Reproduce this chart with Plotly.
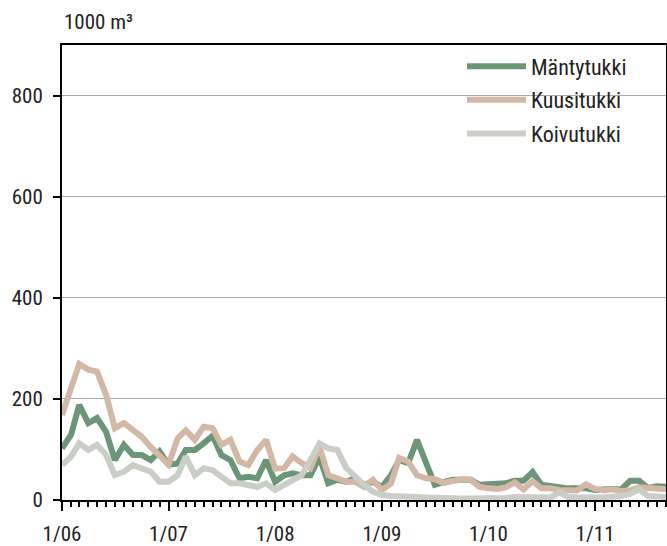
import pandas as pd
import plotly.graph_objects as go

months = pd.date_range("2006-01-01", periods=69, freq="MS")

mantytukki = [102, 129, 188, 152, 162, 135, 79, 109, 89, 89, 79, 96, 70,
              72, 99, 99, 112, 127, 89, 79, 43, 46, 43, 79, 36, 49,
              53, 49, 49, 85, 33, 40, 36, 43, 30, 36, 26, 49, 79, 73, 119, 73,
              30, 36, 40, 40, 40, 30, 30, 32, 33, 38, 38, 55, 30, 27, 26, 23,
              23, 23, 20, 22, 22, 21, 38, 38, 24, 27, 26]
kuusitukki = [168, 224, 269, 258, 254, 208, 142, 152, 138, 125, 105, 89, 70,
              122, 138, 119, 145, 142, 109, 119, 76, 69, 99, 119, 62, 63,
              86, 73, 63, 105, 49, 43, 36, 36, 26, 40, 20, 33, 83, 76, 49, 43,
              41, 34, 38, 41, 40, 26, 23, 22, 25, 35, 21, 37, 23, 23, 20, 20,
              19, 31, 22, 19, 21, 18, 19, 25, 24, 23, 21]
koivutukki = [69, 86, 112, 99, 109, 89, 49, 56, 69, 63, 56, 36, 36,
              49, 86, 49, 63, 59, 46, 33, 33, 30, 26, 33, 20, 30,
              40, 49, 79, 112, 102, 99, 63, 46, 30, 16, 10, 8, 8, 6, 6, 5,
              4, 3, 3, 3, 3, 3, 3, 3, 4, 6, 6, 6, 5, 5, 15, 6,
              5, 4, 5, 5, 6, 8, 12, 21, 8, 8, 6]

series_names = ["Mäntytukki", "Kuusitukki", "Koivutukki"]
series_colors = ["#6b9677", "#d4b8a6", "#c9cec6"]

year_ticks = ["2006-01-01", "2007-01-01", "2008-01-01", "2009-01-01", "2010-01-01", "2011-01-01"]
year_labels = ["1/06", "1/07", "1/08", "1/09", "1/10", "1/11"]
y_ticks = [0, 200, 400, 600, 800]

FONT = ("Roboto Condensed, Noto Sans Condensed, Liberation Sans Narrow, "
        "Arial Narrow, DejaVu Sans Condensed, sans-serif")
TEXT_COLOR = "#222222"

fig = go.Figure()
for name, vals, col in zip(series_names, [mantytukki, kuusitukki, koivutukki], series_colors):
    fig.add_trace(go.Scatter(x=months, y=vals, mode="lines", name=name, legendgroup=name,
                             line=dict(color=col, width=6)))

# white patch behind the legend that interrupts the 800 grid line
fig.add_shape(type="rect", xref="paper", yref="y", x0=0.606, x1=0.9487, y0=770, y1=830,
              fillcolor="white", line=dict(width=0), layer="between")

fig.update_layout(
    width=667, height=546,
    margin=dict(l=62, r=1, t=45, b=46),
    paper_bgcolor="white", plot_bgcolor="white",
    font=dict(family=FONT, size=21, color=TEXT_COLOR),
    showlegend=True,
    legend=dict(x=0.9437, xanchor="right", y=0.999, yanchor="top",
                bgcolor="rgba(255,255,255,0)", borderwidth=0, tracegroupgap=2,
                itemwidth=59,
                font=dict(family=FONT, size=22, color=TEXT_COLOR)),
    annotations=[dict(text="1000 m³", x=0, xref="paper", xanchor="left",
                      y=1.0505, yref="paper", yanchor="middle", showarrow=False,
                      font=dict(family=FONT, size=21, color=TEXT_COLOR))],
)
fig.update_xaxes(range=["2006-01-01", "2011-09-01"], showgrid=False, automargin=False,
                 tickmode="array", tickvals=year_ticks, ticktext=year_labels,
                 ticks="outside", ticklen=9, tickwidth=1.5, tickcolor="black",
                 ticklabelstandoff=5,
                 minor=dict(ticks="outside", ticklen=5, tickwidth=1.5, tickcolor="black",
                            dtick="M1", tick0="2006-01-01", showgrid=False),
                 showline=True, linecolor="black", linewidth=2, mirror=True)
fig.update_yaxes(range=[0, 900], tickvals=y_ticks, showgrid=True, gridcolor="#a8a8a8",
                 gridwidth=1, zeroline=False, ticks="outside", ticklen=7, tickwidth=1.5,
                 tickcolor="black", ticklabelstandoff=6, automargin=False,
                 showline=True, linecolor="black", linewidth=2, mirror=True)

post = "document.body.style.margin='0';document.body.style.overflow='hidden';"
fig.write_html("out.html", config={"displayModeBar": False}, post_script=post)
